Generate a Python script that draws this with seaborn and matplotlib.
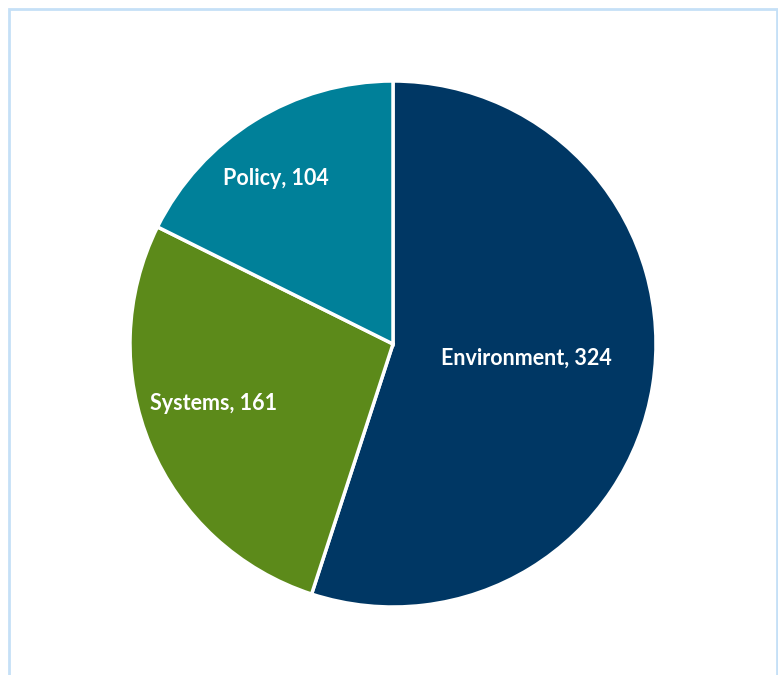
import numpy as np
import matplotlib
matplotlib.use("Agg")
import matplotlib.pyplot as plt
from matplotlib.patches import Rectangle
import seaborn as sns

sns.set_theme(style="white")
plt.rcParams["font.family"] = ["Lato", "DejaVu Sans"]

# Data
categories = ["Environment", "Systems", "Policy"]
counts = [324, 161, 104]
colors = ["#003764", "#5c8a1a", "#008099"]
# label placement inside each wedge: fraction of radius, angular shift from mid-angle (deg)
label_radius = [0.51, 0.72, 0.77]
label_shift = [3.0, -4.4, 3.4]

W, H = 778, 675
fig = plt.figure(figsize=(W / 100, H / 100), dpi=100)
fig.patch.set_facecolor("white")

cx, cy, r = 393, 344, 263
ax = fig.add_axes([(cx - r) / W, (H - cy - r) / H, 2 * r / W, 2 * r / H])

wedges, _ = ax.pie(
    counts,
    colors=colors,
    startangle=90,
    counterclock=False,
    radius=1.0,
    wedgeprops=dict(edgecolor="white", linewidth=2.5),
)
ax.set_xlim(-1, 1)
ax.set_ylim(-1, 1)
ax.set_aspect("equal")
ax.axis("off")

for w, name, val, lr, sh in zip(wedges, categories, counts, label_radius, label_shift):
    mid = np.deg2rad((w.theta1 + w.theta2) / 2 + sh)
    ax.text(lr * np.cos(mid), lr * np.sin(mid), f"{name}, {val}",
            ha="center", va="center", color="white",
            fontsize=15.5, fontweight="bold")

# light blue frame around the chart area (open at the bottom)
fig.patches.append(Rectangle((9 / W, -0.05), (777 - 9) / W, (H - 9) / H + 0.05,
                             transform=fig.transFigure, fill=False,
                             edgecolor="#c5e0f7", linewidth=2.0, zorder=0))

fig.savefig("out.png", dpi=100, facecolor="white")
